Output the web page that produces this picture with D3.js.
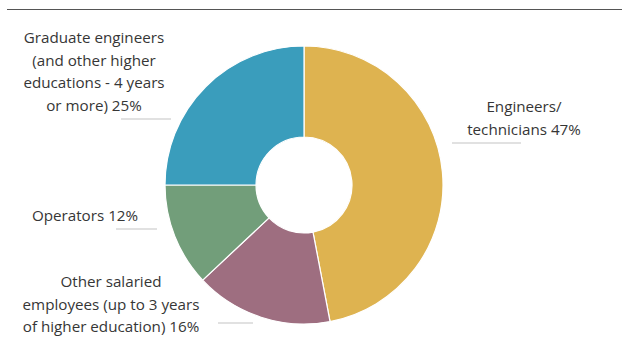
<!DOCTYPE html>
<html>
<head>
<meta charset="utf-8">
<script src="https://cdn.jsdelivr.net/npm/d3@7"></script>
<style>
  html, body { margin: 0; padding: 0; background: #fff; }
  svg text { font-family: "Open Sans", "Noto Sans", sans-serif; font-size: 15.2px; fill: #363636; }
</style>
</head>
<body>
<svg id="chart" width="622" height="353"></svg>
<script>
// Staff composition by education level
const categories = [
  "Engineers/technicians",
  "Other salaried employees (up to 3 years of higher education)",
  "Operators",
  "Graduate engineers (and other higher educations - 4 years or more)"
];
const shares = [47, 16, 12, 25];
const colors = ["#deb350", "#9e6e80", "#729e7a", "#3a9dbc"];
const labelLines = [
  ["Engineers/", "technicians 47%"],
  ["Other salaried", "employees (up to 3 years", "of higher education) 16%"],
  ["Operators 12%"],
  ["Graduate engineers", "(and other higher", "educations - 4 years", "or more) 25%"]
];

const svg = d3.select("#chart");
const cx = 304, cy = 185, rOuter = 139, rInner = 48;

// Rule across the top of the figure
svg.append("line")
  .attr("x1", 7).attr("x2", 622)
  .attr("y1", 9.5).attr("y2", 9.5)
  .attr("stroke", "#555").attr("stroke-width", 1.2);

const data = categories.map((c, i) => ({ name: c, value: shares[i], color: colors[i], lines: labelLines[i] }));

const pie = d3.pie().sort(null).value(d => d.value).startAngle(0).endAngle(2 * Math.PI);
const arc = d3.arc().innerRadius(rInner).outerRadius(rOuter);

const g = svg.append("g").attr("transform", `translate(${cx},${cy})`);
g.selectAll("path")
  .data(pie(data))
  .join("path")
  .attr("d", arc)
  .attr("fill", d => d.data.color)
  .attr("stroke", "#fff")
  .attr("stroke-width", 1.2);

// Label placement: text block centre, first baseline, leader line
const labelLayout = [
  { x: 524, y: 112, line: [452, 521, 143] },
  { x: 111, y: 287, line: [218, 253, 323] },
  { x: 85,  y: 221, line: [116, 157, 229] },
  { x: 94,  y: 43,  line: [121, 171, 119] }
];
const lineHeight = 22.5;

data.forEach((d, i) => {
  const L = labelLayout[i];
  const t = svg.append("text")
    .attr("text-anchor", "middle")
    .attr("x", L.x).attr("y", L.y);
  d.lines.forEach((s, k) => {
    t.append("tspan").attr("x", L.x).attr("y", L.y + k * lineHeight).text(s);
  });
  svg.append("line")
    .attr("x1", L.line[0]).attr("x2", L.line[1])
    .attr("y1", L.line[2]).attr("y2", L.line[2])
    .attr("stroke", "#c4c4c4").attr("stroke-width", 1.2);
});
</script>
</body>
</html>
